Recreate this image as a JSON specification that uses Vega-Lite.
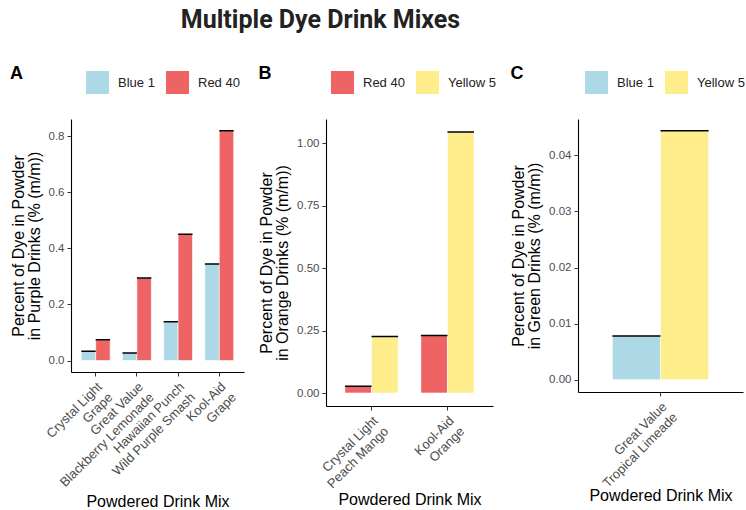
{
  "$schema": "https://vega.github.io/schema/vega-lite/v6.json",
  "padding": {"left": 10, "top": 8, "right": 0, "bottom": 2},
  "background": "white",
  "title": {"text": "Multiple Dye Drink Mixes", "font": "Roboto", "fontSize": 25, "fontWeight": "bold", "color": "#222222", "anchor": "middle", "dx": -57, "offset": 32},
  "datasets": {
    "A": [
      {"mix": "Crystal Light\nGrape", "dye": "Blue 1", "value": 0.033},
      {"mix": "Crystal Light\nGrape", "dye": "Red 40", "value": 0.074},
      {"mix": "Great Value\nBlackberry Lemonade", "dye": "Blue 1", "value": 0.027},
      {"mix": "Great Value\nBlackberry Lemonade", "dye": "Red 40", "value": 0.294},
      {"mix": "Hawaiian Punch\nWild Purple Smash", "dye": "Blue 1", "value": 0.138},
      {"mix": "Hawaiian Punch\nWild Purple Smash", "dye": "Red 40", "value": 0.450},
      {"mix": "Kool-Aid\nGrape", "dye": "Blue 1", "value": 0.344},
      {"mix": "Kool-Aid\nGrape", "dye": "Red 40", "value": 0.819}
    ],
    "B": [
      {"mix": "Crystal Light\nPeach Mango", "dye": "Red 40", "value": 0.027},
      {"mix": "Crystal Light\nPeach Mango", "dye": "Yellow 5", "value": 0.226},
      {"mix": "Kool-Aid\nOrange", "dye": "Red 40", "value": 0.230},
      {"mix": "Kool-Aid\nOrange", "dye": "Yellow 5", "value": 1.045}
    ],
    "C": [
      {"mix": "Great Value\nTropical Limeade", "dye": "Blue 1", "value": 0.0078},
      {"mix": "Great Value\nTropical Limeade", "dye": "Yellow 5", "value": 0.0444}
    ]
  },
  "config": {
    "font": "Liberation Sans",
    "view": {"stroke": null},
    "axis": {
      "grid": false,
      "domainColor": "black",
      "domainWidth": 1.1,
      "tickColor": "#333333",
      "tickSize": 4,
      "labelColor": "#4D4D4D",
      "labelFont": "Liberation Sans",
      "titleFont": "Liberation Sans",
      "titleFontSize": 16,
      "titleLineHeight": 16,
      "titleFontWeight": "normal",
      "titleColor": "black"
    },
    "axisX": {"labelFontSize": 13, "labelPadding": 4},
    "axisY": {"titlePadding": 6, "labelFontSize": 11.5, "labelPadding": 3},
    "legend": {
      "orient": "none",
      "direction": "horizontal",
      "title": null,
      "symbolType": "square",
      "symbolSize": 529,
      "symbolStrokeWidth": 0,
      "symbolOpacity": 1,
      "labelFontSize": 13,
      "labelColor": "#222222",
      "labelFont": "Liberation Sans",
      "labelOffset": 9,
      "columnPadding": 11,
      "legendY": -48
    },
    "title": {"anchor": "start", "frame": "bounds", "fontSize": 18, "fontWeight": "bold", "font": "Liberation Sans", "color": "black"}
  },
  "resolve": {"scale": {"color": "independent", "y": "independent", "x": "independent", "xOffset": "independent"}, "legend": {"color": "independent"}},
  "spacing": 14,
  "hconcat": [
    {
      "width": 173,
      "height": 253,
      "title": {"text": "A", "offset": -12},
      "data": {"name": "A"},
      "encoding": {
        "x": {"field": "mix", "type": "nominal", "sort": null, "title": "Powdered Drink Mix",
          "scale": {"paddingInner": 0.3, "paddingOuter": 0.25},
          "axis": {"labelAngle": -45, "labelAlign": "right", "labelBaseline": "top", "labelExpr": "split(datum.value, '\\n')", "labelLineHeight": 15, "titlePadding": 4}},
        "xOffset": {"field": "dye", "type": "nominal", "scale": {"paddingInner": 0, "paddingOuter": 0}},
        "y": {"field": "value", "type": "quantitative", "stack": null,
          "title": ["Percent of Dye in Powder", "in Purple Drinks (% (m/m))"],
          "scale": {"domain": [-0.041, 0.861], "nice": false, "zero": false},
          "axis": {"values": [0, 0.2, 0.4, 0.6, 0.8], "format": ".1f"}}
      },
      "layer": [
        {"mark": {"type": "bar", "stroke": "white", "strokeWidth": 0.6},
         "encoding": {"y2": {"datum": 0},
           "color": {"field": "dye", "type": "nominal", "scale": {"domain": ["Blue 1", "Red 40"], "range": ["#ADD8E6", "#EE6363"]}, "legend": {"legendX": 15}}}},
        {"mark": {"type": "bar", "fill": null, "stroke": "black", "strokeWidth": 1.6},
         "encoding": {"y2": {"field": "value"}}}
      ]
    },
    {
      "width": 167,
      "height": 287,
      "title": {"text": "B", "offset": -12},
      "data": {"name": "B"},
      "encoding": {
        "x": {"field": "mix", "type": "nominal", "sort": null, "title": "Powdered Drink Mix",
          "scale": {"paddingInner": 0.3, "paddingOuter": 0.25},
          "axis": {"labelAngle": -45, "labelAlign": "right", "labelBaseline": "top", "labelExpr": "split(datum.value, '\\n')", "labelLineHeight": 15, "titlePadding": 1}},
        "xOffset": {"field": "dye", "type": "nominal", "scale": {"paddingInner": 0, "paddingOuter": 0}},
        "y": {"field": "value", "type": "quantitative", "stack": null,
          "title": ["Percent of Dye in Powder", "in Orange Drinks (% (m/m))"],
          "scale": {"domain": [-0.052, 1.097], "nice": false, "zero": false},
          "axis": {"values": [0, 0.25, 0.5, 0.75, 1.0], "format": ".2f"}}
      },
      "layer": [
        {"mark": {"type": "bar", "stroke": "white", "strokeWidth": 0.6},
         "encoding": {"y2": {"datum": 0},
           "color": {"field": "dye", "type": "nominal", "scale": {"domain": ["Red 40", "Yellow 5"], "range": ["#EE6363", "#FFEC8B"]}, "legend": {"legendX": 5}}}},
        {"mark": {"type": "bar", "fill": null, "stroke": "black", "strokeWidth": 1.6},
         "encoding": {"y2": {"field": "value"}}}
      ]
    },
    {
      "width": 165,
      "height": 273,
      "title": {"text": "C", "offset": -12},
      "data": {"name": "C"},
      "encoding": {
        "x": {"field": "mix", "type": "nominal", "sort": null, "title": "Powdered Drink Mix",
          "scale": {"paddingInner": 0.3, "paddingOuter": 0.25},
          "axis": {"labelAngle": -45, "labelAlign": "right", "labelBaseline": "top", "labelExpr": "split(datum.value, '\\n')", "labelLineHeight": 15, "titlePadding": -2}},
        "xOffset": {"field": "dye", "type": "nominal", "scale": {"paddingInner": 0, "paddingOuter": 0}},
        "y": {"field": "value", "type": "quantitative", "stack": null,
          "title": ["Percent of Dye in Powder", "in Green Drinks (% (m/m))"],
          "scale": {"domain": [-0.0022, 0.0465], "nice": false, "zero": false},
          "axis": {"values": [0, 0.01, 0.02, 0.03, 0.04], "format": ".2f"}}
      },
      "layer": [
        {"mark": {"type": "bar", "stroke": "white", "strokeWidth": 0.6},
         "encoding": {"y2": {"datum": 0},
           "color": {"field": "dye", "type": "nominal", "scale": {"domain": ["Blue 1", "Yellow 5"], "range": ["#ADD8E6", "#FFEC8B"]}, "legend": {"legendX": 7}}}},
        {"mark": {"type": "bar", "fill": null, "stroke": "black", "strokeWidth": 1.6},
         "encoding": {"y2": {"field": "value"}}}
      ]
    }
  ]
}
